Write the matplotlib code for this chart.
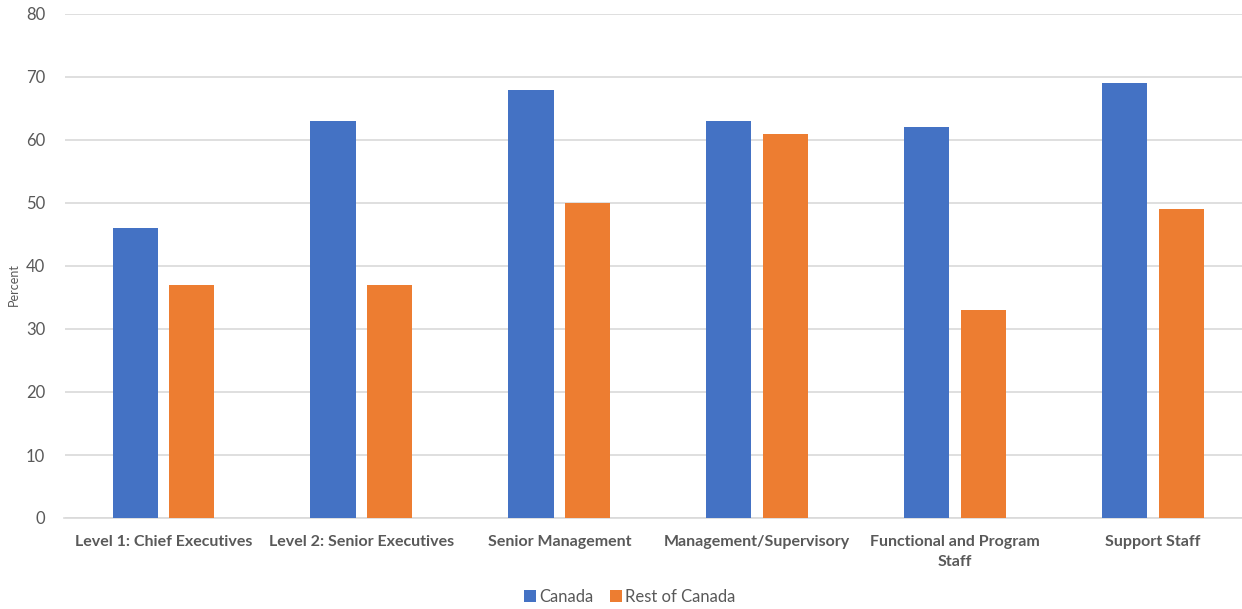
import numpy as np
import matplotlib.pyplot as plt

categories = ["Level 1: Chief Executives", "Level 2: Senior Executives",
              "Senior Management", "Management/Supervisory",
              "Functional and Program\nStaff", "Support Staff"]
canada = [46, 63, 68, 63, 62, 69]
rest_of_canada = [37, 37, 50, 61, 33, 49]

plt.rcParams['font.family'] = ['Lato', 'DejaVu Sans']
text_col = '#595959'

fig = plt.figure(figsize=(12.42, 6.09), dpi=100)
# plot area is a bit wider than the picture, right edge is cut off
ax = fig.add_axes([64.5 / 1242, 91 / 609, 1187.4 / 1242, 504 / 609])

x = np.arange(len(categories))
w = 0.228
off = 0.143
ax.bar(x - off, canada, w, color='#4472C4', label='Canada', zorder=3)
ax.bar(x + off, rest_of_canada, w, color='#ED7D31', label='Rest of Canada', zorder=3)

ax.set_xlim(-0.5, len(categories) - 0.5)
ax.set_ylim(0, 80)
ax.set_yticks(range(0, 81, 10))
ax.yaxis.grid(True, color='#D9D9D9', linewidth=1.2, zorder=0)
for s in ['top', 'right', 'left']:
    ax.spines[s].set_visible(False)
ax.spines['bottom'].set_color('#D9D9D9')
ax.spines['bottom'].set_linewidth(1.2)
ax.tick_params(axis='both', length=0, colors=text_col, labelsize=12)
ax.tick_params(axis='y', pad=14)
ax.tick_params(axis='x', pad=12)
ax.set_xticks(x)
ax.set_xticklabels(categories, fontweight='bold', fontsize=11.5, color=text_col,
                   linespacing=1.55)

fig.text(14 / 1242, 0.5 + 20 / 609, 'Percent', rotation=90, ha='center', va='center',
         fontsize=9, color=text_col)

fig.legend(loc='lower center', bbox_to_anchor=(0.507, -0.018), ncol=2, frameon=False,
           fontsize=12, labelcolor=text_col, handlelength=0.7, handleheight=0.7,
           handletextpad=0.2, columnspacing=1.0)

fig.savefig('out.png', dpi=100)
